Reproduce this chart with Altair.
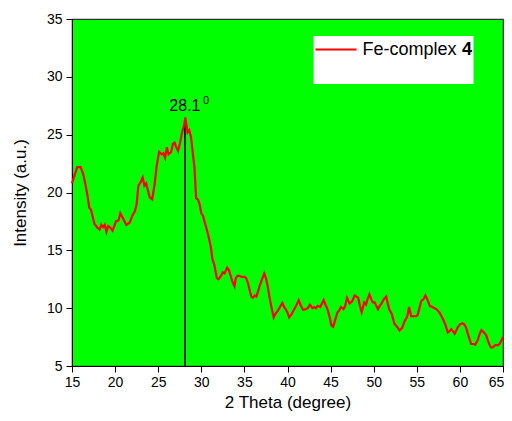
import altair as alt
import pandas as pd

two_theta = [15.0, 15.3, 15.6, 16.0, 16.3, 16.5, 16.8, 17.0, 17.2, 17.4, 17.6, 17.9, 18.2, 18.4, 18.6, 18.8,
             19.0, 19.2, 19.4, 19.7, 19.9, 20.1, 20.4, 20.6, 20.9, 21.1, 21.3, 21.5, 21.7, 22.0, 22.3, 22.5,
             22.7, 22.9, 23.2, 23.4, 23.6, 23.8, 24.0, 24.3, 24.6, 24.8, 25.1, 25.4, 25.6, 25.8, 26.0, 26.2,
             26.5, 26.7, 26.9, 27.1, 27.3, 27.5, 27.8, 28.0, 28.15, 28.4, 28.6, 28.8, 29.0, 29.2, 29.4, 29.6,
             29.8, 30.0, 30.2, 30.4, 30.6, 30.9, 31.1, 31.3, 31.5, 31.8, 32.0, 32.3, 32.5, 32.7, 33.0, 33.2,
             33.4, 33.6, 33.85, 34.0, 34.2, 34.4, 34.7, 35.0, 35.2, 35.4, 35.6, 35.8, 36.0, 36.2, 36.4, 36.6,
             36.8, 37.0, 37.3, 37.5, 37.7, 37.9, 38.1, 38.4, 38.6, 38.9, 39.2, 39.4, 39.6, 39.8, 40.0, 40.2,
             40.5, 40.7, 41.0, 41.3, 41.5, 41.8, 42.1, 42.35, 42.6, 42.9, 43.1, 43.3, 43.5, 43.8, 44.0, 44.2,
             44.4, 44.6, 44.9, 45.1, 45.3, 45.5, 45.8, 46.0, 46.2, 46.5, 46.7, 46.9, 47.2, 47.5, 47.8, 48.0,
             48.2, 48.4, 48.6, 48.9, 49.1, 49.3, 49.5, 49.7, 49.9, 50.1, 50.3, 50.5, 50.7, 50.9, 51.2, 51.45,
             51.6, 51.8, 52.1, 52.4, 52.7, 53.0, 53.3, 53.6, 53.9, 54.1, 54.35, 54.6, 54.9, 55.1, 55.3, 55.5,
             55.8, 56.0, 56.2, 56.5, 56.8, 57.05, 57.3, 57.6, 57.8, 58.0, 58.3, 58.6, 58.8, 59.0, 59.2, 59.4,
             59.6, 59.75, 60.0, 60.3, 60.5, 60.7, 61.0, 61.3, 61.6, 61.8, 62.1, 62.3, 62.5, 62.8, 63.05, 63.2,
             63.4, 63.6, 63.8, 64.1, 64.4, 64.6, 64.8, 65.0]
intensity = [20.8, 21.5, 22.2, 22.2, 21.6, 20.9, 19.7, 18.7, 18.5, 17.9, 17.3, 17.0, 16.8, 17.2, 17.0, 17.2,
             16.6, 17.1, 17.0, 16.7, 17.1, 17.5, 17.6, 18.2, 17.8, 17.5, 17.2, 17.3, 17.4, 18.0, 18.4, 19.0,
             20.6, 20.8, 21.3, 20.6, 20.8, 20.2, 19.6, 19.4, 20.8, 22.2, 23.5, 23.3, 23.4, 23.0, 23.9, 23.3,
             23.5, 24.2, 24.3, 23.9, 23.6, 24.2, 25.3, 25.8, 26.5, 25.2, 25.4, 24.8, 23.5, 22.2, 19.5, 19.4,
             19.0, 18.2, 18.0, 17.4, 16.9, 16.0, 15.3, 14.2, 13.8, 12.6, 12.5, 12.8, 13.1, 13.0, 13.5, 13.3,
             12.8, 12.3, 11.9, 12.6, 12.8, 12.8, 12.7, 12.7, 12.6, 12.2, 11.6, 11.0, 10.9, 11.1, 11.0, 11.5,
             12.0, 12.4, 13.0, 12.6, 11.9, 11.0, 10.2, 9.2, 9.5, 9.8, 10.2, 10.45, 10.1, 9.9, 9.6, 9.2,
             9.5, 9.8, 10.2, 10.7, 10.3, 9.85, 9.9, 10.0, 10.3, 10.0, 10.1, 10.0, 10.2, 10.1, 10.4, 10.7,
             10.3, 10.0, 9.2, 8.5, 8.4, 8.9, 9.65, 9.8, 10.1, 9.9, 10.2, 10.9, 10.4, 10.6, 11.1, 11.0,
             10.9, 10.2, 9.65, 10.5, 10.3, 10.8, 11.2, 10.8, 10.5, 10.5, 10.2, 9.9, 10.2, 10.4, 10.8, 11.0,
             10.5, 9.9, 9.5, 8.65, 8.4, 8.07, 8.3, 8.9, 9.3, 10.1, 9.3, 9.3, 9.3, 9.4, 10.0, 10.6,
             10.8, 11.1, 10.8, 10.2, 10.1, 10.0, 9.9, 9.65, 9.4, 9.1, 8.6, 7.9, 8.0, 8.2, 8.0, 7.8,
             8.1, 8.35, 8.6, 8.7, 8.6, 8.35, 7.6, 6.9, 6.9, 6.85, 7.3, 7.8, 8.1, 7.9, 7.65, 7.3,
             6.9, 6.6, 6.6, 6.8, 6.8, 6.9, 7.2, 7.5]

x_ticks = [15 + 2.5 * i for i in range(21)]
y_ticks = [5 + 2.5 * i for i in range(13)]

peak_x = [28.1]
peak_top = [26.3]
peak_label = ["28.1"]
peak_label_y = [27.05]

series_name = "Fe-complex"
series_num = "4"

FONT = "Liberation Sans"
W, H = 431, 347

df = pd.DataFrame({"two_theta": two_theta, "intensity": intensity})
peak_df = pd.DataFrame({"x": peak_x, "y0": [5.0], "y1": peak_top, "label": peak_label, "ly": peak_label_y})
one = pd.DataFrame({"a": [0]})

xscale = alt.Scale(domain=[15, 65], nice=False, zero=False)
yscale = alt.Scale(domain=[5, 35], nice=False, zero=False)

tick_size = {"condition": {"test": "datum.value % 5 === 0", "value": 6}, "value": 3}
last_label_offset = {"condition": {"test": "datum.value === 65", "value": -7}, "value": 0}

xaxis = alt.Axis(values=x_ticks, labelExpr="datum.value % 5 === 0 ? datum.label : ''",
                 tickSize=tick_size, labelOffset=last_label_offset, labelOverlap=False, grid=False,
                 title="2 Theta (degree)",
                 labelFont=FONT, labelFontSize=14, titleFont=FONT, titleFontSize=17, titleFontWeight="normal",
                 labelColor="black", titleColor="black", domainColor="black", tickColor="black",
                 labelPadding=3, titlePadding=5, labelFlush=False)
yaxis = alt.Axis(values=y_ticks, labelExpr="datum.value % 5 === 0 ? datum.label : ''",
                 tickSize=tick_size, labelOverlap=False, grid=False, title="Intensity (a.u.)",
                 labelFont=FONT, labelFontSize=14, titleFont=FONT, titleFontSize=17, titleFontWeight="normal",
                 labelColor="black", titleColor="black", domainColor="black", tickColor="black",
                 labelPadding=4, titlePadding=17, labelFlush=False)

rule = alt.Chart(peak_df).mark_rule(color="black", strokeWidth=1.6).encode(
    x=alt.X("x:Q", scale=xscale, axis=xaxis),
    y=alt.Y("y0:Q", scale=yscale, axis=yaxis),
    y2="y1:Q",
)

line = alt.Chart(df).mark_line(color="#FF0000", strokeWidth=2.2).encode(
    x=alt.X("two_theta:Q", scale=xscale),
    y=alt.Y("intensity:Q", scale=yscale),
)

label = alt.Chart(peak_df).mark_text(font=FONT, fontSize=16, color="black", align="center",
                                     baseline="alphabetic").encode(
    x=alt.X("x:Q", scale=xscale), y=alt.Y("ly:Q", scale=yscale), text="label:N")
sup = alt.Chart(peak_df).mark_text(font=FONT, fontSize=11, color="black", align="left",
                                   baseline="alphabetic", dx=18, dy=-7, text="0").encode(
    x=alt.X("x:Q", scale=xscale), y=alt.Y("ly:Q", scale=yscale))

# legend box
leg_box = alt.Chart(one).mark_rect(fill="white", stroke=None).encode(
    x=alt.value(241.5), x2=alt.value(401.5), y=alt.value(17), y2=alt.value(65))
leg_line = alt.Chart(one).mark_rule(color="#FF0000", strokeWidth=2.2).encode(
    x=alt.value(243.5), x2=alt.value(284.5), y=alt.value(30.5))
leg_text = alt.Chart(one).mark_text(font=FONT, fontSize=18, color="black", align="left",
                                    baseline="middle", text=series_name).encode(
    x=alt.value(290.5), y=alt.value(31))
leg_num = alt.Chart(one).mark_text(font=FONT, fontSize=18, fontWeight="bold", color="black", align="left",
                                   baseline="middle", text=series_num).encode(
    x=alt.value(390), y=alt.value(31))

chart = alt.layer(rule, line, label, sup, leg_box, leg_line, leg_text, leg_num).properties(
    width=W, height=H,
    autosize=alt.AutoSizeParams(type="none"),
    padding={"left": 64, "top": 11, "right": 1, "bottom": 46},
).configure_view(fill="#00FF00", stroke="#333333", strokeWidth=1.2)

chart.save("out.html", embed_options={"renderer": "svg", "actions": False})
